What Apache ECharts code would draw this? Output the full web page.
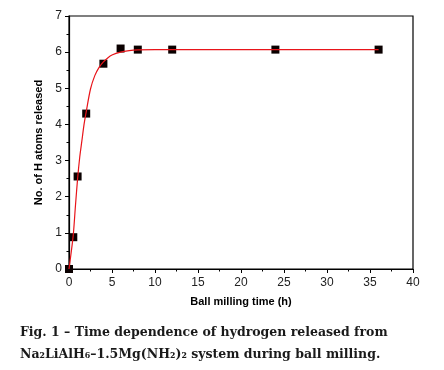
<!DOCTYPE html>
<html><head><meta charset="utf-8">
<script src="https://cdn.jsdelivr.net/npm/echarts@6/dist/echarts.min.js"></script>
<style>html,body{margin:0;padding:0;background:#fff}#c{width:444px;height:370px}</style>
</head><body><div id="c"></div>
<script>
// measured data points
const timeH = [0, 0.5, 1, 2, 4, 6, 8, 12, 24, 36];
const hReleased = [0, 0.88, 2.56, 4.3, 5.68, 6.1, 6.07, 6.07, 6.07, 6.07];
// fitted curve
const fitT = [0, 0.25, 0.5, 0.75, 1, 1.25, 1.5, 1.75, 2, 2.5, 3, 3.5, 4, 4.5, 5, 6, 7, 8, 10, 12, 15, 20, 25, 30, 36];
const fitV = [0, 0.45, 0.95, 1.75, 2.5, 3.1, 3.55, 4.0, 4.35, 4.98, 5.35, 5.58, 5.73, 5.84, 5.92, 6.0, 6.04, 6.06, 6.07, 6.07, 6.07, 6.07, 6.07, 6.07, 6.07];
const xTicks = [0, 5, 10, 15, 20, 25, 30, 35, 40];
const yTicks = [0, 1, 2, 3, 4, 5, 6, 7];

const chart = echarts.init(document.getElementById('c'));
const axisFont = {fontFamily: 'Liberation Sans', fontSize: 12, color: '#222'};
chart.setOption({
  animation: false,
  grid: {left: 69, right: 31, top: 16, bottom: 101, show: true, borderColor: '#000', borderWidth: 1.2},
  xAxis: {
    type: 'value', min: xTicks[0], max: xTicks[xTicks.length - 1], interval: 5,
    name: 'Ball milling time (h)', nameLocation: 'middle', nameGap: 27,
    nameTextStyle: {fontFamily: 'Liberation Sans', fontSize: 11, fontWeight: 'bold', color: '#000'},
    axisLine: {lineStyle: {color: '#000', width: 1.2}},
    axisTick: {lineStyle: {color: '#000'}, length: 4},
    minorTick: {show: true, splitNumber: 2, length: 2.5, lineStyle: {color: '#000'}},
    axisLabel: Object.assign({margin: 8}, axisFont),
    splitLine: {show: false}
  },
  yAxis: {
    type: 'value', min: yTicks[0], max: yTicks[yTicks.length - 1], interval: 1,
    name: 'No. of H atoms released', nameLocation: 'middle', nameGap: 24,
    nameTextStyle: {fontFamily: 'Liberation Sans', fontSize: 11, fontWeight: 'bold', color: '#000'},
    axisLine: {show: true, lineStyle: {color: '#000', width: 1.2}},
    axisTick: {show: true, lineStyle: {color: '#000'}, length: 4},
    minorTick: {show: true, splitNumber: 2, length: 2.5, lineStyle: {color: '#000'}},
    axisLabel: Object.assign({margin: 7}, axisFont),
    splitLine: {show: false}
  },
  series: [
    {type: 'scatter', data: timeH.map((t, i) => [t, hReleased[i]]), symbol: 'rect', symbolSize: 8,
     itemStyle: {color: '#0a0000', opacity: 1}, z: 2},
    {type: 'line', data: fitT.map((t, i) => [t, fitV[i]]), smooth: 0.3, showSymbol: false,
     lineStyle: {color: '#e8141a', width: 1.2}, z: 3}
  ],
  graphic: [
    {type: 'text', left: 20, top: 322, style: {
      text: 'Fig. 1 – Time dependence of hydrogen released from\nNa₂LiAlH₆–1.5Mg(NH₂)₂ system during ball milling.',
      fontFamily: 'DejaVu Serif', fontSize: 12.5, fontWeight: 'bold', fill: '#1a1a1a', lineHeight: 22
    }}
  ]
});
</script></body></html>
